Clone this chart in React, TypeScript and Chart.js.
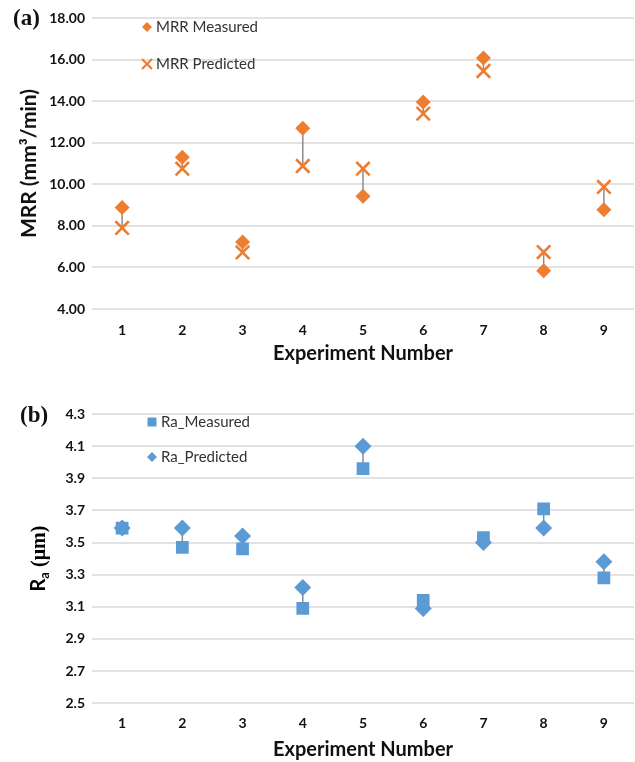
import React, { useEffect, useRef } from 'react';
import { Chart, registerables } from 'chart.js';

Chart.register(...registerables);

const experiments = ['1', '2', '3', '4', '5', '6', '7', '8', '9'];
const mrrMeasured = [8.88, 11.3, 7.22, 12.7, 9.43, 13.96, 16.08, 5.84, 8.77];
const mrrPredicted = [7.9, 10.75, 6.72, 10.88, 10.75, 13.4, 15.45, 6.74, 9.87];
const raMeasured = [3.59, 3.47, 3.46, 3.09, 3.96, 3.14, 3.53, 3.71, 3.28];
const raPredicted = [3.59, 3.59, 3.54, 3.22, 4.1, 3.09, 3.5, 3.59, 3.38];
const mrrRange = [4, 18, 2];
const raRange = [2.5, 4.3, 0.2];

const ORANGE = '#ED7D31';
const BLUE = '#5B9BD5';
const SANS = 'Lato, "Open Sans", sans-serif';
const SERIF = '"Liberation Serif", "DejaVu Serif", serif';

function drawMarker(ctx: CanvasRenderingContext2D, style: string, x: number, y: number, r: number, color: string) {
  ctx.save();
  ctx.fillStyle = color;
  ctx.strokeStyle = color;
  ctx.beginPath();
  if (style === 'diamond') {
    ctx.moveTo(x, y - r);
    ctx.lineTo(x + r, y);
    ctx.lineTo(x, y + r);
    ctx.lineTo(x - r, y);
    ctx.closePath();
    ctx.fill();
  } else if (style === 'square') {
    ctx.rect(x - r, y - r, 2 * r, 2 * r);
    ctx.fill();
  } else {
    ctx.lineWidth = 2.2;
    ctx.moveTo(x - r, y - r);
    ctx.lineTo(x + r, y + r);
    ctx.moveTo(x + r, y - r);
    ctx.lineTo(x - r, y + r);
    ctx.stroke();
  }
  ctx.restore();
}

const hiLoPlugin = {
  id: 'hiLo',
  beforeDatasetsDraw(chart: any) {
    const ctx = chart.ctx;
    const xs = chart.scales.x;
    const ys = chart.scales.y;
    const a = chart.data.datasets[0].data;
    const b = chart.data.datasets[1].data;
    ctx.save();
    ctx.strokeStyle = '#8c8c8c';
    ctx.lineWidth = 1.5;
    for (let i = 0; i < a.length; i++) {
      const x = xs.getPixelForValue(i);
      ctx.beginPath();
      ctx.moveTo(x, ys.getPixelForValue(a[i]));
      ctx.lineTo(x, ys.getPixelForValue(b[i]));
      ctx.stroke();
    }
    ctx.restore();
  },
};

const legendPlugin = {
  id: 'customLegend',
  afterDraw(chart: any, _args: any, opts: any) {
    const ctx = chart.ctx;
    const items = opts.items || [];
    ctx.save();
    items.forEach((it: any) => {
      drawMarker(ctx, it.style, it.x, it.y, it.r, it.color);
      ctx.fillStyle = '#333';
      ctx.font = `15px ${SANS}`;
      ctx.textBaseline = 'middle';
      ctx.textAlign = 'left';
      ctx.fillText(it.text, it.tx, it.y);
    });
    ctx.restore();
  },
};

const raTitlePlugin = {
  id: 'raTitle',
  afterDraw(chart: any, _args: any, opts: any) {
    if (!opts.enabled) return;
    const ctx = chart.ctx;
    const ca = chart.chartArea;
    const cy = (ca.top + ca.bottom) / 2;
    ctx.save();
    ctx.translate(opts.x, cy);
    ctx.rotate(-Math.PI / 2);
    ctx.fillStyle = '#000';
    ctx.textBaseline = 'alphabetic';
    ctx.textAlign = 'left';
    const f1 = `bold 20px ${SANS}`;
    const f2 = `bold 13px ${SANS}`;
    const f3 = `bold 20px ${SERIF}`;
    ctx.font = f1; const w1 = ctx.measureText('R').width;
    ctx.font = f2; const w2 = ctx.measureText('a').width;
    ctx.font = f3; const w3 = ctx.measureText(' (μm)').width;
    let x = -(w1 + w2 + w3) / 2;
    const base = 7;
    ctx.font = f1; ctx.fillText('R', x, base); x += w1;
    ctx.font = f2; ctx.fillText('a', x, base + 4); x += w2;
    ctx.font = f3; ctx.fillText(' (μm)', x, base);
    ctx.restore();
  },
};

function makeConfig(opts: any) {
  const tickFont = { family: SANS, weight: 'bold' as const, size: 14 };
  return {
    type: 'line' as const,
    data: {
      labels: experiments,
      datasets: opts.datasets,
    },
    plugins: [hiLoPlugin, legendPlugin, raTitlePlugin],
    options: {
      animation: false as const,
      responsive: false,
      maintainAspectRatio: false,
      layout: { padding: opts.padding, autoPadding: false },
      plugins: {
        legend: { display: false },
        tooltip: { enabled: false },
        customLegend: { items: opts.legend },
        raTitle: { enabled: opts.raTitle, x: 38 },
      },
      scales: {
        x: {
          type: 'category' as const,
          offset: true,
          grid: { display: false, drawTicks: true, tickLength: opts.tickLen },
          border: { display: false },
          ticks: { color: '#111', font: tickFont, padding: 0, maxRotation: 0 },
          title: {
            display: true,
            text: 'Experiment Number',
            color: '#111',
            font: { family: SANS, weight: 'bold' as const, size: 20 },
            padding: opts.xTitlePadding,
          },
        },
        y: {
          min: opts.range[0],
          max: opts.range[1],
          grid: { color: '#e2e2e2', lineWidth: 2, drawTicks: false },
          border: { display: false },
          ticks: {
            stepSize: opts.range[2],
            color: '#111',
            font: tickFont,
            padding: 7,
            callback: (v: any) => Number(v).toFixed(opts.decimals),
          },
          title: {
            display: !!opts.yTitle,
            text: opts.yTitle || '',
            color: '#111',
            font: { family: SANS, weight: 'bold' as const, size: 21 },
            padding: { top: 17, bottom: 0 },
          },
          afterFit: (s: any) => {
            s.width = 92;
          },
        },
      },
    },
  };
}

export default function App() {
  const topRef = useRef<HTMLCanvasElement>(null);
  const botRef = useRef<HTMLCanvasElement>(null);

  useEffect(() => {
    const top = new Chart(topRef.current as HTMLCanvasElement, makeConfig({
      range: mrrRange,
      decimals: 2,
      yTitle: 'MRR (mm³/min)',
      raTitle: false,
      padding: { top: 18, right: 1, left: 0, bottom: 10.6 },
      tickLen: 12.6,
      xTitlePadding: { top: 3, bottom: 4 },
      datasets: [
        {
          label: 'MRR Measured',
          data: mrrMeasured,
          showLine: false,
          pointStyle: 'rectRot',
          pointRadius: 7.5,
          pointBackgroundColor: ORANGE,
          pointBorderColor: ORANGE,
          pointBorderWidth: 0,
        },
        {
          label: 'MRR Predicted',
          data: mrrPredicted,
          showLine: false,
          pointStyle: 'crossRot',
          pointRadius: 9.5,
          pointBackgroundColor: ORANGE,
          pointBorderColor: ORANGE,
          pointBorderWidth: 2.6,
        },
      ],
      legend: [
        { style: 'diamond', x: 147, y: 27, r: 5, color: ORANGE, text: 'MRR Measured', tx: 156 },
        { style: 'cross', x: 147, y: 64, r: 5, color: ORANGE, text: 'MRR Predicted', tx: 156 },
      ],
    }) as any);

    const bot = new Chart(botRef.current as HTMLCanvasElement, makeConfig({
      range: raRange,
      decimals: 1,
      yTitle: '',
      raTitle: true,
      padding: { top: 34, right: 1, left: 0, bottom: 0 },
      tickLen: 12,
      xTitlePadding: { top: 6, bottom: 0 },
      datasets: [
        {
          label: 'Ra_Measured',
          data: raMeasured,
          showLine: false,
          pointStyle: 'rect',
          pointRadius: 9,
          pointBackgroundColor: BLUE,
          pointBorderColor: BLUE,
          pointBorderWidth: 0,
        },
        {
          label: 'Ra_Predicted',
          data: raPredicted,
          showLine: false,
          pointStyle: 'rectRot',
          pointRadius: 8.5,
          pointBackgroundColor: BLUE,
          pointBorderColor: BLUE,
          pointBorderWidth: 0,
        },
      ],
      legend: [
        { style: 'square', x: 152, y: 42, r: 4.5, color: BLUE, text: 'Ra_Measured', tx: 161 },
        { style: 'diamond', x: 152, y: 77, r: 5, color: BLUE, text: 'Ra_Predicted', tx: 161 },
      ],
    }) as any);

    return () => {
      top.destroy();
      bot.destroy();
    };
  }, []);

  const labelStyle: React.CSSProperties = {
    position: 'absolute',
    left: 13,
    fontFamily: SERIF,
    fontWeight: 'bold',
    fontSize: 23,
    lineHeight: '24px',
    color: '#111',
  };

  return (
    <div style={{ position: 'fixed', left: 0, top: 0, width: 635, height: 762, background: '#fff', overflow: 'hidden' }}>
      <canvas ref={topRef} width={635} height={380} style={{ position: 'absolute', left: 0, top: 0 }} />
      <canvas ref={botRef} width={635} height={382} style={{ position: 'absolute', left: 0, top: 380 }} />
      <div style={{ ...labelStyle, top: 6 }}>(a)</div>
      <div style={{ ...labelStyle, top: 403, left: 20 }}>(b)</div>
    </div>
  );
}
